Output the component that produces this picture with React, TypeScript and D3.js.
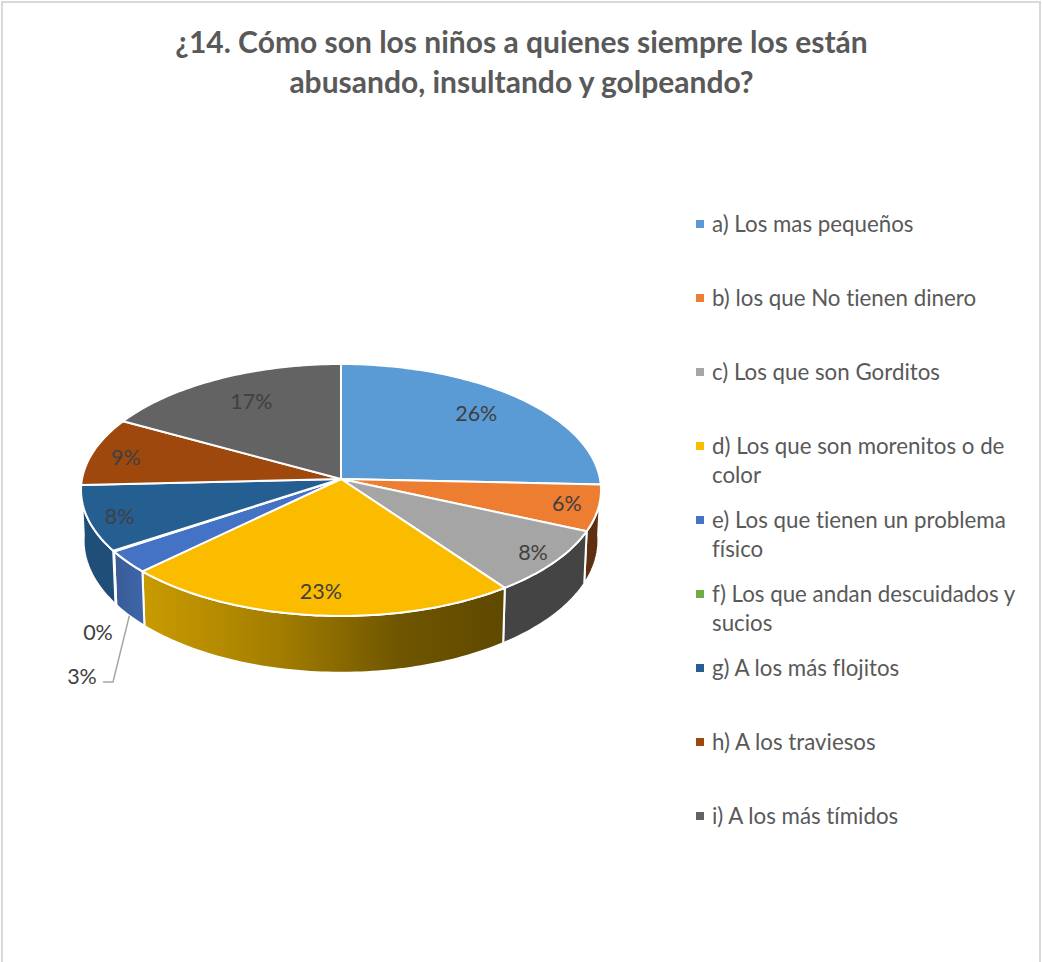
/**
 * D3 pseudo-3D pie chart: perspective-projected disc with an extruded side wall.
 */
import * as d3 from 'd3';
import { useEffect, useRef } from 'react';

const titleLines = ['¿14. Cómo son los niños a quienes siempre los están', 'abusando, insultando y golpeando?'];
const categories = [
  ['a) Los mas pequeños'],
  ['b) los que No tienen dinero'],
  ['c) Los que son Gorditos'],
  ['d) Los que son morenitos o de', 'color'],
  ['e) Los que tienen un problema', 'físico'],
  ['f) Los que andan descuidados y', 'sucios'],
  ['g) A los más flojitos'],
  ['h) A los traviesos'],
  ['i) A los más tímidos'],
];
const values = [25.7, 5.9, 8.4, 22.8, 2.9, 0.1, 8.45, 8.75, 17];
const topColors = ['#5B9BD5', '#ED7D31', '#A5A5A5', '#FBBC00', '#4472C4', '#70AD47', '#255E91', '#9E480E', '#636363'];
const sideColors = ['#3E6C95', '#5E2F10', '#444444', 'url(#sideYellow)', 'url(#sideBlue)', '#3E6030', '#1F4E79', '#6E320A', '#454545'];
// radial position of each inside label, as a fraction of the radius
const labelRadius = [0.75, 0.88, 0.905, 0.82, 0, 0, 0.877, 0.867, 0.75];
// small hand nudges to the label anchors
const labelNudgeX = [1, 0, 0, 0, 0, 0, 0, 0, 4];
const labelNudgeY = [-4, -1, -1, 3, 0, 0, 3, 3, -1];

const TEXT = '#595959';
const LABEL = '#404040';
const FONT = 'Lato, sans-serif';

export default function App() {
  const svgRef = useRef<SVGSVGElement>(null);

  useEffect(() => {
    if (!svgRef.current) return;

    const svg = d3.select(svgRef.current);
    svg.selectAll('*').remove();

    // Gradients for the front wall
    const defs = svg.append('defs');
    const gradient = (id: string, x1: number, x2: number, stops: [number, string][]) => {
      const g = defs
        .append('linearGradient')
        .attr('id', id)
        .attr('gradientUnits', 'userSpaceOnUse')
        .attr('x1', x1)
        .attr('x2', x2)
        .attr('y1', 0)
        .attr('y2', 0);
      stops.forEach(([o, c]) => g.append('stop').attr('offset', o).attr('stop-color', c));
    };
    gradient('sideYellow', 143, 504, [
      [0, '#CA9B00'],
      [0.4, '#A07B00'],
      [0.7, '#705600'],
      [1, '#5F4900'],
    ]);
    gradient('sideBlue', 115, 145, [
      [0, '#3A5C96'],
      [1, '#3E66AB'],
    ]);

    // Frame
    svg
      .append('rect')
      .attr('x', 2)
      .attr('y', 2)
      .attr('width', 1038)
      .attr('height', 1000)
      .attr('fill', '#fff')
      .attr('stroke', '#D9D9D9')
      .attr('stroke-width', 2);

    // Title
    svg
      .append('g')
      .selectAll('text')
      .data(titleLines)
      .join('text')
      .attr('x', 521.5)
      .attr('y', (_, i) => 53 + i * 40)
      .attr('text-anchor', 'middle')
      .attr('font-family', FONT)
      .attr('font-weight', 700)
      .attr('font-size', 30)
      .attr('fill', TEXT)
      .style('font-variant-ligatures', 'none')
      .text((d) => d);

    // Perspective projection of the disc: angle clockwise from the back of the pie
    const cx = 341;
    const cy = 479;
    const R = 259;
    const S = 125;
    const k = 0.0873;
    const project = (a: number, r = 1): [number, number] => {
      const w = 1 + k * r * Math.cos(a);
      return [cx + (R * r * Math.sin(a)) / w, cy - (S * r * Math.cos(a)) / w];
    };
    const projectLow = (a: number): [number, number] => {
      const [x, y] = project(a);
      return [cx + (x - cx) * 0.99, cy + 50 + (y - cy) * 1.05];
    };
    const arcAngles = (a0: number, a1: number) => {
      const n = Math.max(2, Math.ceil((a1 - a0) / 0.02));
      return d3.range(n + 1).map((i) => a0 + ((a1 - a0) * i) / n);
    };

    const line = d3.line<[number, number]>();
    const slices = d3
      .pie<number>()
      .sort(null)
      .startAngle(0)
      .endAngle(2 * Math.PI)(values);
    const mid = (d: d3.PieArcDatum<number>) => (d.startAngle + d.endAngle) / 2;
    const percent = (v: number) => `${Math.round(v)}%`;

    // Side wall
    const front = slices.filter((d) => mid(d) > Math.PI / 2 && mid(d) < (3 * Math.PI) / 2);
    svg
      .append('g')
      .selectAll('path')
      .data(front)
      .join('path')
      .attr('d', (d) => {
        const angles = arcAngles(d.startAngle, d.endAngle);
        return line([...angles.map((a) => project(a)), ...angles.reverse().map((a) => projectLow(a))]) + 'Z';
      })
      .attr('fill', (d) => sideColors[d.index])
      .attr('stroke', '#fff')
      .attr('stroke-width', 2)
      .attr('stroke-linejoin', 'round');

    // Top of the pie
    svg
      .append('g')
      .selectAll('path')
      .data(slices)
      .join('path')
      .attr('d', (d) => line([[cx, cy], ...arcAngles(d.startAngle, d.endAngle).map((a) => project(a))]) + 'Z')
      .attr('fill', (d) => topColors[d.index])
      .attr('stroke', '#fff')
      .attr('stroke-width', 2)
      .attr('stroke-linejoin', 'round');

    // Inside labels
    svg
      .append('g')
      .selectAll('text')
      .data(slices.filter((d) => labelRadius[d.index] > 0))
      .join('text')
      .attr('x', (d) => project(mid(d), labelRadius[d.index])[0] + labelNudgeX[d.index])
      .attr('y', (d) => project(mid(d), labelRadius[d.index])[1] + labelNudgeY[d.index])
      .attr('dy', '0.35em')
      .attr('text-anchor', 'middle')
      .attr('font-family', FONT)
      .attr('font-size', 21.5)
      .attr('fill', LABEL)
      .text((d) => percent(d.value));

    // Leader and outside labels for the two thin slices
    const thin = slices[4];
    svg
      .append('path')
      .attr('d', line([projectLow(mid(thin)), [113, 682], [103, 682]]))
      .attr('fill', 'none')
      .attr('stroke', '#A6A6A6')
      .attr('stroke-width', 1.5);
    svg
      .append('g')
      .selectAll('text')
      .data([
        { d: slices[5], x: 98, y: 632 },
        { d: slices[4], x: 82, y: 676 },
      ])
      .join('text')
      .attr('x', (o) => o.x)
      .attr('y', (o) => o.y)
      .attr('dy', '0.35em')
      .attr('text-anchor', 'middle')
      .attr('font-family', FONT)
      .attr('font-size', 21.5)
      .attr('fill', LABEL)
      .text((o) => percent(o.d.value));

    // Legend
    const legendY = d3.scaleLinear().domain([0, 8]).range([224, 816]);
    const legend = svg
      .append('g')
      .selectAll('g')
      .data(categories)
      .join('g')
      .attr('transform', (_, i) => `translate(696,${legendY(i)})`);
    legend
      .append('rect')
      .attr('x', 0)
      .attr('y', -4)
      .attr('width', 8)
      .attr('height', 8)
      .attr('fill', (_, i) => topColors[i]);
    legend
      .selectAll('text')
      .data((d) => d)
      .join('text')
      .attr('x', 16)
      .attr('y', (_, i) => i * 29)
      .attr('dy', '0.35em')
      .attr('font-family', FONT)
      .attr('font-size', 22.3)
      .attr('fill', TEXT)
      .style('font-variant-ligatures', 'none')
      .text((d) => d);
  }, []);

  return <svg ref={svgRef} width={1042} height={962} style={{ position: 'absolute', left: 0, top: 0, display: 'block' }} />;
}
